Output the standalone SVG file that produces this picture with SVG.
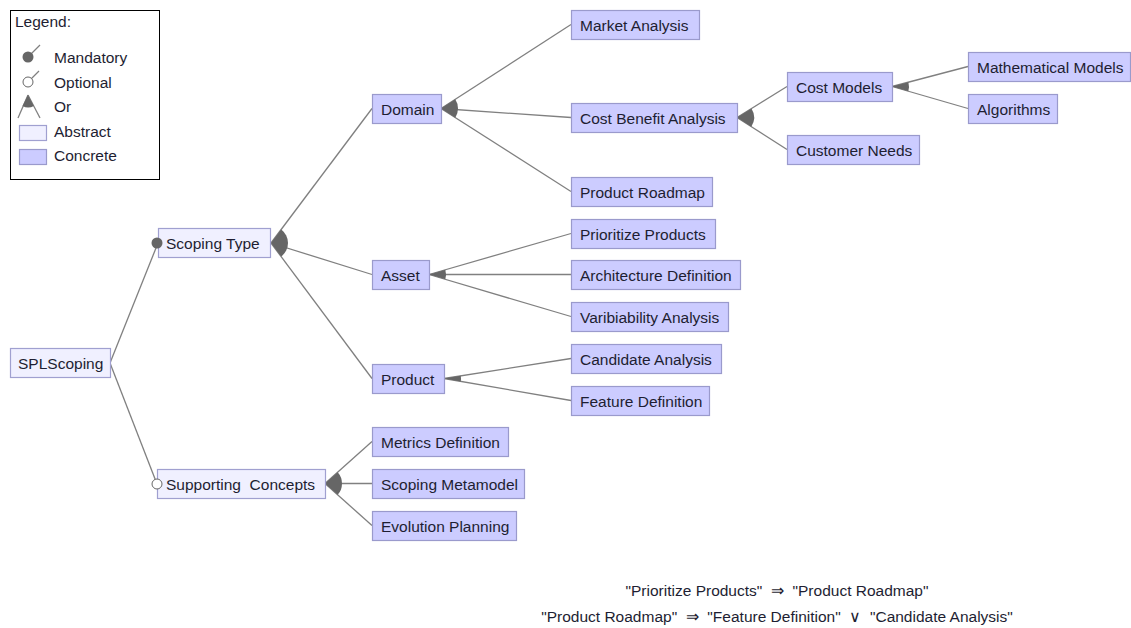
<svg xmlns="http://www.w3.org/2000/svg" width="1131" height="628" viewBox="0 0 1131 628">
<style>
text{font-family:"Liberation Sans",Arial,sans-serif;font-size:15.5px;fill:#1e1e32;white-space:pre}
.c{fill:#ccccff;stroke:#9a9acc;stroke-width:1.2}
.a{fill:#f0f0ff;stroke:#a0a0d0;stroke-width:1.2}
.ln{stroke:#808080;stroke-width:1.3;fill:none}
.or{fill:#666;stroke:none}
.cons{text-anchor:middle}
</style>
<rect width="1131" height="628" fill="#fff"/>
<g id="legend">
<rect x="10.5" y="10.5" width="149" height="169" fill="#fff" stroke="#000"/>
<text x="15" y="27">Legend:</text>
<line x1="28" y1="57" x2="40" y2="45" class="ln"/>
<circle cx="28" cy="57" r="5.5" fill="#666"/>
<text x="54" y="63">Mandatory</text>
<line x1="28" y1="82" x2="39" y2="71" class="ln"/>
<circle cx="28" cy="82" r="5" fill="#fff" stroke="#666"/>
<text x="54" y="88">Optional</text>
<line x1="28" y1="95" x2="18" y2="118" class="ln"/>
<line x1="28" y1="95" x2="40" y2="118" class="ln"/>
<path d="M28 95 L22.5 106 A12 12 0 0 0 33.8 106 Z" class="or"/>
<text x="54" y="112">Or</text>
<rect x="19.5" y="125.5" width="27" height="15" class="a"/>
<text x="54" y="137">Abstract</text>
<rect x="19.5" y="149.5" width="27" height="15" class="c"/>
<text x="54" y="161">Concrete</text>
</g>
<g id="connectors">
<line x1="110" y1="363" x2="158" y2="243" class="ln"/>
<line x1="110" y1="363" x2="157" y2="484" class="ln"/>
<line x1="271" y1="243" x2="372" y2="108.5" class="ln"/>
<line x1="271" y1="243" x2="372" y2="274.5" class="ln"/>
<line x1="271" y1="243" x2="372" y2="378.5" class="ln"/>
<path d="M271 243 L281.2 229.4 A17 17 0 0 1 281.2 256.6 Z" class="or"/>
<line x1="441" y1="108.5" x2="571" y2="24.5" class="ln"/>
<line x1="441" y1="108.5" x2="571" y2="117.5" class="ln"/>
<line x1="441" y1="108.5" x2="571" y2="191.5" class="ln"/>
<path d="M441 108.5 L455.28 99.28 A17 17 0 0 1 455.33 117.65 Z" class="or"/>
<line x1="737" y1="117.5" x2="787" y2="86.5" class="ln"/>
<line x1="737" y1="117.5" x2="787" y2="149.5" class="ln"/>
<path d="M737 117.5 L751.45 108.54 A17 17 0 0 1 751.32 126.67 Z" class="or"/>
<line x1="892" y1="86.5" x2="968" y2="66.5" class="ln"/>
<line x1="892" y1="86.5" x2="968" y2="108.5" class="ln"/>
<path d="M892 86.5 L908.44 82.17 A17 17 0 0 1 908.33 91.23 Z" class="or"/>
<line x1="429" y1="274.5" x2="571" y2="233.5" class="ln"/>
<line x1="429" y1="274.5" x2="571" y2="274.5" class="ln"/>
<line x1="429" y1="274.5" x2="571" y2="316.5" class="ln"/>
<path d="M429 274.5 L445.33 269.78 A17 17 0 0 1 445.3 279.32 Z" class="or"/>
<line x1="444" y1="378.5" x2="571" y2="358.5" class="ln"/>
<line x1="444" y1="378.5" x2="571" y2="400.5" class="ln"/>
<path d="M444 378.5 L460.79 375.85 A17 17 0 0 1 460.75 381.4 Z" class="or"/>
<line x1="325" y1="483.5" x2="372" y2="441.5" class="ln"/>
<line x1="325" y1="483.5" x2="372" y2="483.5" class="ln"/>
<line x1="325" y1="483.5" x2="372" y2="525.5" class="ln"/>
<path d="M325 483.5 L337.68 472.17 A17 17 0 0 1 337.68 494.83 Z" class="or"/>
</g>
<g id="n-splscoping"><rect x="10.5" y="348.5" width="100" height="29" class="a"/><text x="18" y="368.5">SPLScoping</text></g>
<g id="n-scopingtype"><rect x="158.5" y="228.5" width="112" height="29" class="a"/><text x="166" y="248.5">Scoping Type</text></g>
<g id="n-supporting"><rect x="157.5" y="469.5" width="168" height="29" class="a"/><text x="166" y="489.5">Supporting  Concepts</text></g>
<circle cx="157" cy="243" r="5.5" fill="#666"/>
<circle cx="157" cy="484" r="5" fill="#fff" stroke="#666"/>
<g id="n-domain"><rect x="372.5" y="94.5" width="69" height="29" class="c"/><text x="381" y="114.5">Domain</text></g>
<g id="n-asset"><rect x="372.5" y="260.5" width="57" height="29" class="c"/><text x="381" y="280.5">Asset</text></g>
<g id="n-product"><rect x="372.5" y="364.5" width="72" height="29" class="c"/><text x="381" y="384.5">Product</text></g>
<g id="n-metrics"><rect x="372.5" y="427.5" width="136" height="29" class="c"/><text x="381" y="447.5">Metrics Definition</text></g>
<g id="n-metamodel"><rect x="372.5" y="469.5" width="152" height="29" class="c"/><text x="381" y="489.5">Scoping Metamodel</text></g>
<g id="n-evolution"><rect x="372.5" y="511.5" width="144" height="29" class="c"/><text x="381" y="531.5">Evolution Planning</text></g>
<g id="n-market"><rect x="571.5" y="10.5" width="128" height="29" class="c"/><text x="580" y="30.5">Market Analysis</text></g>
<g id="n-costbenefit"><rect x="571.5" y="103.5" width="166" height="29" class="c"/><text x="580" y="123.5">Cost Benefit Analysis</text></g>
<g id="n-roadmap"><rect x="571.5" y="177.5" width="141" height="29" class="c"/><text x="580" y="197.5">Product Roadmap</text></g>
<g id="n-prioritize"><rect x="571.5" y="219.5" width="144" height="29" class="c"/><text x="580" y="239.5">Prioritize Products</text></g>
<g id="n-architecture"><rect x="571.5" y="260.5" width="169" height="29" class="c"/><text x="580" y="280.5">Architecture Definition</text></g>
<g id="n-varib"><rect x="571.5" y="302.5" width="157" height="29" class="c"/><text x="580" y="322.5">Varibiability Analysis</text></g>
<g id="n-candidate"><rect x="571.5" y="344.5" width="150" height="29" class="c"/><text x="580" y="364.5">Candidate Analysis</text></g>
<g id="n-feature"><rect x="571.5" y="386.5" width="138" height="29" class="c"/><text x="580" y="406.5">Feature Definition</text></g>
<g id="n-costmodels"><rect x="787.5" y="72.5" width="105" height="29" class="c"/><text x="796" y="92.5">Cost Models</text></g>
<g id="n-customer"><rect x="787.5" y="135.5" width="132" height="29" class="c"/><text x="796" y="155.5">Customer Needs</text></g>
<g id="n-math"><rect x="968.5" y="52.5" width="162" height="29" class="c"/><text x="977" y="72.5">Mathematical Models</text></g>
<g id="n-algorithms"><rect x="968.5" y="94.5" width="89" height="29" class="c"/><text x="977" y="114.5">Algorithms</text></g>
<g id="constraints">
<text x="777" y="596" class="cons">"Prioritize Products"  ⇒  "Product Roadmap"</text>
<text x="777" y="622" class="cons">"Product Roadmap"  ⇒  "Feature Definition"  ∨  "Candidate Analysis"</text>
</g>
</svg>
